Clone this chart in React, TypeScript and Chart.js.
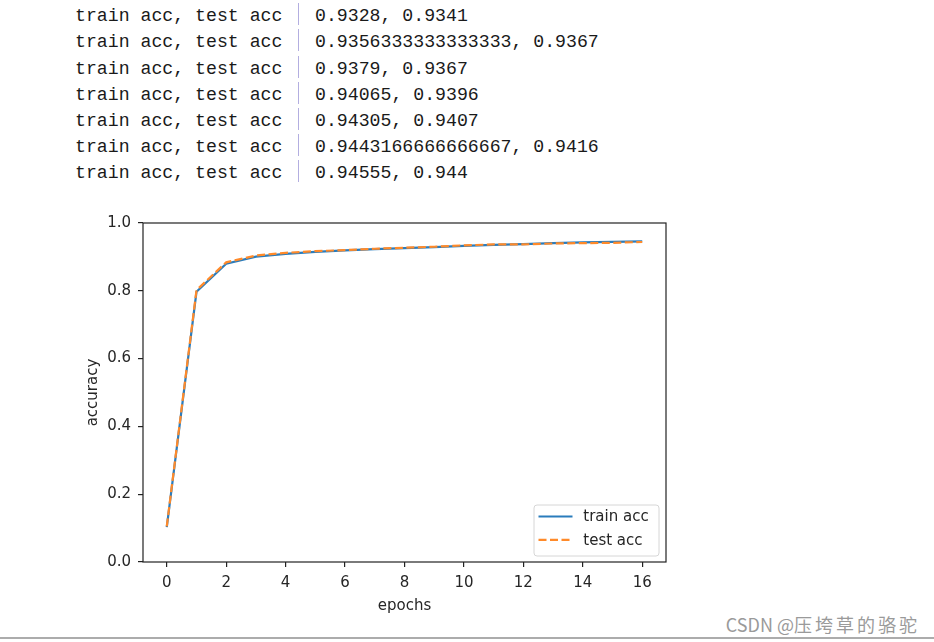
import React, { useEffect, useRef } from "react";
import { Chart, registerables } from "chart.js";

Chart.register(...registerables);

// ---------- data ----------
const epochs = [0, 1, 2, 3, 4, 5, 6, 7, 8, 9, 10, 11, 12, 13, 14, 15, 16];
const trainAcc = [0.103, 0.797, 0.88, 0.901, 0.909, 0.915, 0.919, 0.923, 0.926, 0.929, 0.9328, 0.9356333333333333, 0.9379, 0.94065, 0.94305, 0.9443166666666667, 0.94555];
const testAcc = [0.105, 0.802, 0.884, 0.904, 0.912, 0.917, 0.92, 0.924, 0.927, 0.93, 0.9341, 0.9367, 0.9367, 0.9396, 0.9407, 0.9416, 0.944];
const yTicks = [0, 0.2, 0.4, 0.6, 0.8, 1.0];
const xTicks = [0, 2, 4, 6, 8, 10, 12, 14, 16];
const seriesLabels = ["train acc", "test acc"];
const axisTitles = { x: "epochs", y: "accuracy" };
const logPrefix = "train acc, test acc";
const logTrain = ["0.9328", "0.9356333333333333", "0.9379", "0.94065", "0.94305", "0.9443166666666667", "0.94555"];
const logTest = ["0.9341", "0.9367", "0.9367", "0.9396", "0.9407", "0.9416", "0.944"];
const watermarkLatin = "CSDN @";
const watermarkCjk = "压垮草的骆驼";

const BLUE = "#2a7cbc";
const ORANGE = "#ff8a2a";
const INK = "#262626";
const FONT = "'DejaVu Sans', sans-serif";

const framePlugin = {
  id: "frameAndLegend",
  afterDraw(chart: any) {
    const { ctx, chartArea: ca } = chart;
    ctx.save();
    // spines
    ctx.strokeStyle = "#222";
    ctx.lineWidth = 1.2;
    ctx.strokeRect(ca.left, ca.top, ca.right - ca.left, ca.bottom - ca.top);

    // legend box (lower right, inside axes)
    const w = 125;
    const h = 51;
    const bx = ca.right - 7 - w;
    const by = ca.bottom - 6 - h;
    const r = 3;
    ctx.beginPath();
    ctx.moveTo(bx + r, by);
    ctx.lineTo(bx + w - r, by);
    ctx.arcTo(bx + w, by, bx + w, by + r, r);
    ctx.lineTo(bx + w, by + h - r);
    ctx.arcTo(bx + w, by + h, bx + w - r, by + h, r);
    ctx.lineTo(bx + r, by + h);
    ctx.arcTo(bx, by + h, bx, by + h - r, r);
    ctx.lineTo(bx, by + r);
    ctx.arcTo(bx, by, bx + r, by, r);
    ctx.closePath();
    ctx.fillStyle = "rgba(255,255,255,0.85)";
    ctx.fill();
    ctx.strokeStyle = "#d6d6d6";
    ctx.lineWidth = 1;
    ctx.stroke();

    const ds = chart.data.datasets;
    const rows = [by + 11.5, by + 34.8];
    ds.forEach((d: any, i: number) => {
      const y = rows[i];
      ctx.beginPath();
      ctx.strokeStyle = d.borderColor;
      ctx.lineWidth = d.borderWidth;
      ctx.setLineDash(d.borderDash || []);
      ctx.moveTo(bx + 4.5, y);
      ctx.lineTo(bx + 38.5, y);
      ctx.stroke();
      ctx.setLineDash([]);
      ctx.fillStyle = INK;
      ctx.font = `15px ${FONT}`;
      ctx.textBaseline = "middle";
      ctx.textAlign = "left";
      ctx.fillText(d.label, bx + 49.3, y + 1);
    });
    ctx.restore();
  },
};

function AccChart() {
  const ref = useRef<HTMLCanvasElement | null>(null);
  useEffect(() => {
    if (!ref.current) return;
    const chart = new Chart(ref.current, {
      type: "line",
      data: {
        datasets: [
          {
            label: seriesLabels[0],
            data: epochs.map((e, i) => ({ x: e, y: trainAcc[i] })),
            borderColor: BLUE,
            borderWidth: 2.2,
            pointRadius: 0,
            tension: 0,
            fill: false,
            order: 1,
          },
          {
            label: seriesLabels[1],
            data: epochs.map((e, i) => ({ x: e, y: testAcc[i] })),
            borderColor: ORANGE,
            borderWidth: 2.2,
            borderDash: [8, 3.5],
            pointRadius: 0,
            tension: 0,
            fill: false,
            order: 0,
          },
        ],
      },
      options: {
        animation: false,
        responsive: false,
        maintainAspectRatio: false,
        events: [],
        layout: { padding: { left: 0, right: 14, top: 22, bottom: 0 } },
        plugins: { legend: { display: false }, tooltip: { enabled: false } },
        scales: {
          x: {
            type: "linear",
            min: -0.8,
            max: 16.8,
            afterFit: (s: any) => {
              s.height = 69;
            },
            afterBuildTicks: (s: any) => {
              s.ticks = xTicks.map((v) => ({ value: v }));
            },
            border: { display: false },
            grid: { display: true, drawOnChartArea: false, drawTicks: true, tickLength: 5, color: "#222", lineWidth: 1.2 },
            ticks: {
              padding: 7,
              color: INK,
              font: { family: FONT, size: 15 },
              maxRotation: 0,
              autoSkip: false,
              callback: (v: any) => String(v),
            },
            title: {
              display: true,
              text: axisTitles.x,
              color: INK,
              font: { family: FONT, size: 15 },
              padding: { top: 0, bottom: 16 },
            },
          },
          y: {
            type: "linear",
            min: 0,
            max: 1,
            afterFit: (s: any) => {
              s.width = 83;
            },
            afterBuildTicks: (s: any) => {
              s.ticks = yTicks.map((v) => ({ value: v }));
            },
            border: { display: false },
            grid: { display: true, drawOnChartArea: false, drawTicks: true, tickLength: 5, color: "#222", lineWidth: 1.2 },
            ticks: {
              padding: 7,
              color: INK,
              font: { family: FONT, size: 15 },
              autoSkip: false,
              callback: (v: any) => Number(v).toFixed(1),
            },
            title: {
              display: true,
              text: axisTitles.y,
              color: INK,
              font: { family: FONT, size: 15 },
              padding: { top: 24, bottom: 0 },
            },
          },
        },
      },
      plugins: [framePlugin],
    });
    return () => chart.destroy();
  }, []);
  return (
    <canvas
      ref={ref}
      width={620}
      height={430}
      style={{ position: "absolute", left: 60, top: 201, width: 620, height: 430 }}
    />
  );
}

export default function App() {
  const rowTop = 3.3;
  const rowH = 26.1;
  const mono: React.CSSProperties = {
    position: "absolute",
    fontFamily: "'Liberation Mono', monospace",
    fontSize: "18.2px",
    lineHeight: `${rowH}px`,
    whiteSpace: "pre",
    color: "#1a1a1a",
  };
  return (
    <div
      style={{
        position: "absolute",
        left: 0,
        top: 0,
        width: 934,
        height: 642,
        overflow: "hidden",
        background: "#fff",
      }}
    >
      {logTrain.map((t, i) => (
        <React.Fragment key={i}>
          <div style={{ ...mono, left: 75, top: rowTop + i * rowH }}>{logPrefix}</div>
          <div
            style={{
              position: "absolute",
              left: 298,
              top: rowTop + i * rowH,
              width: 1,
              height: 22,
              background: "#b3aee0",
            }}
          />
          <div style={{ ...mono, left: 315, top: rowTop + i * rowH }}>{`${t}, ${logTest[i]}`}</div>
        </React.Fragment>
      ))}
      <AccChart />
      <div
        style={{
          position: "absolute",
          right: 14,
          top: 613,
          fontFamily: "'Noto Sans CJK SC', sans-serif",
          fontSize: "18px",
          lineHeight: "22px",
          color: "#9a9a9a",
          whiteSpace: "pre",
        }}
      >
        {watermarkLatin}
        <span style={{ letterSpacing: "3px" }}>{watermarkCjk}</span>
      </div>
      <div
        style={{
          position: "absolute",
          left: 0,
          top: 637,
          width: 934,
          height: 2,
          background: "#acacac",
        }}
      />
    </div>
  );
}
